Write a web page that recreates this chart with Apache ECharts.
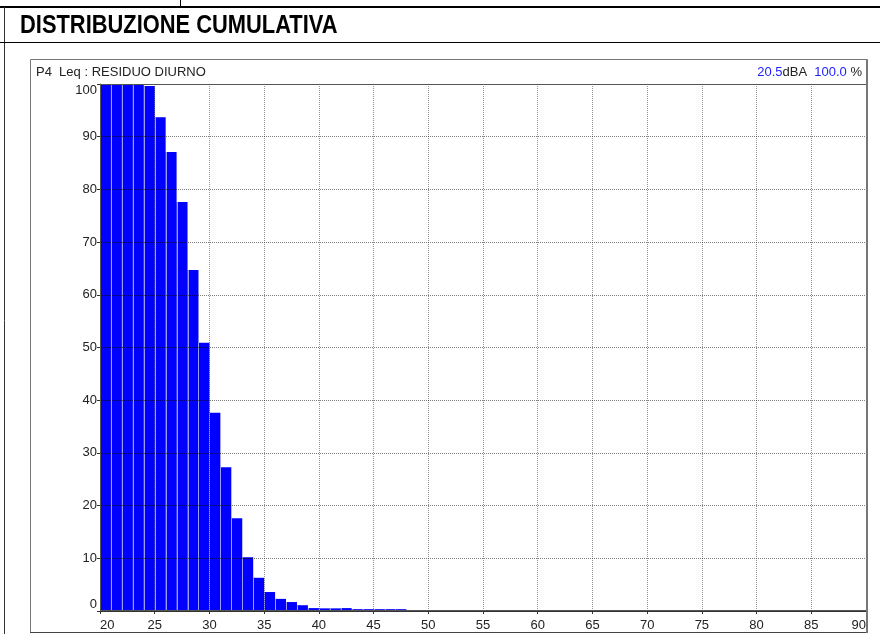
<!DOCTYPE html>
<html>
<head>
<meta charset="utf-8" />
<title>Distribuzione cumulativa</title>
<script src="https://cdn.jsdelivr.net/npm/echarts@6/dist/echarts.min.js"></script>
<style>
  html, body { margin: 0; padding: 0; background: #fff; }
  #main { width: 880px; height: 634px; }
</style>
</head>
<body>
<div id="main"></div>
<script>
// livelli (dBA) di inizio di ogni classe da 1 dB
const binStart = [20, 21, 22, 23, 24, 25, 26, 27, 28, 29, 30, 31, 32, 33,
                  34, 35, 36, 37, 38, 39, 40, 41, 42, 43, 44, 45, 46, 47];
// percentuale cumulativa per classe
const cumPercent = [100, 100, 100, 100, 99.6, 93.7, 87.1, 77.6, 64.7, 50.9, 37.6, 27.3, 17.6, 10.2,
                    6.3, 3.6, 2.3, 1.7, 1.1, 0.55, 0.5, 0.5, 0.55, 0.35, 0.35, 0.35, 0.35, 0.35];
const xTicks = [20, 25, 30, 35, 40, 45, 50, 55, 60, 65, 70, 75, 80, 85, 90];
const yTicks = [0, 10, 20, 30, 40, 50, 60, 70, 80, 90, 100];

const titleText = 'DISTRIBUZIONE CUMULATIVA';
const chartLabel = 'P4  Leq : RESIDUO DIURNO';
const levelValue = '20.5';
const percentValue = '100.0';

const font = '"Liberation Sans", Arial, sans-serif';

let myChart = echarts.init(document.getElementById('main'));

let option = {
    animation: false,
    backgroundColor: '#fff',
    grid: { left: 100, right: 14, top: 84, bottom: 23, containLabel: false },
    xAxis: {
        type: 'value',
        min: xTicks[0],
        max: xTicks[xTicks.length - 1],
        interval: 5,
        z: 3,
        axisLine: { show: true, lineStyle: { color: '#333', width: 1 } },
        axisTick: { show: true, length: 3, lineStyle: { color: '#333' } },
        axisLabel: {
            color: '#222', fontSize: 13, fontFamily: font, margin: 8,
            alignMinLabel: 'left', alignMaxLabel: 'right'
        },
        splitLine: { show: true, lineStyle: { color: 'rgba(0,0,0,0.42)', type: [1, 1], width: 1 } }
    },
    yAxis: {
        type: 'value',
        min: yTicks[0],
        max: yTicks[yTicks.length - 1],
        interval: 10,
        z: 3,
        axisLine: { show: true, lineStyle: { color: '#777', width: 1 } },
        axisTick: { show: true, length: 3, lineStyle: { color: '#333' } },
        axisLabel: {
            color: '#222', fontSize: 13, fontFamily: font, margin: 3,
            verticalAlignMinLabel: 'bottom', verticalAlignMaxLabel: 'top'
        },
        splitLine: { show: true, lineStyle: { color: 'rgba(0,0,0,0.5)', type: [1, 1], width: 1 } }
    },
    series: [
        {
            type: 'custom',
            clip: true,
            z: 2,
            data: binStart.map((x, i) => [x, cumPercent[i]]),
            renderItem: function (params, api) {
                let x = api.value(0), v = api.value(1);
                let p0 = api.coord([x, v]);
                let p1 = api.coord([x + 1, 0]);
                let children = [{
                    type: 'rect',
                    shape: { x: p0[0], y: p0[1], width: p1[0] - p0[0], height: p1[1] - p0[1] },
                    style: { fill: '#0000ff' }
                }];
                if (params.dataIndex > 0) {
                    children.push({
                        type: 'line',
                        shape: { x1: Math.round(p0[0]) + 0.5, y1: p0[1], x2: Math.round(p0[0]) + 0.5, y2: p1[1] },
                        style: { stroke: '#9c9cff', lineWidth: 1 }
                    });
                }
                return { type: 'group', children: children };
            }
        }
    ],
    graphic: [
        // cornice pagina
        { type: 'line', shape: { x1: 0, y1: 7, x2: 880, y2: 7 }, style: { stroke: '#000', lineWidth: 2 } },
        { type: 'line', shape: { x1: 180.5, y1: 0, x2: 180.5, y2: 7 }, style: { stroke: '#000', lineWidth: 1 } },
        { type: 'line', shape: { x1: 4.5, y1: 7, x2: 4.5, y2: 634 }, style: { stroke: '#333', lineWidth: 1 } },
        { type: 'line', shape: { x1: 0, y1: 42.5, x2: 880, y2: 42.5 }, style: { stroke: '#000', lineWidth: 1 } },
        {
            type: 'text', x: 20, y: 14, scaleX: 0.875,
            style: { text: titleText, fill: '#000', font: 'bold 25px "Liberation Sans", Arial, sans-serif' }
        },
        // cornice grafico
        { type: 'rect', shape: { x: 30.5, y: 59.5, width: 837, height: 573 }, style: { fill: 'none', stroke: '#777', lineWidth: 1 } },
        { type: 'rect', shape: { x: 100.5, y: 84.5, width: 766, height: 526 }, z: 10, style: { fill: 'none', stroke: '#555', lineWidth: 1 } },
        { type: 'line', shape: { x1: 867, y1: 60, x2: 867, y2: 633 }, z: 10, style: { stroke: '#777', lineWidth: 2 } },
        { type: 'line', shape: { x1: 30, y1: 632.5, x2: 868, y2: 632.5 }, style: { stroke: '#444', lineWidth: 1 } },
        {
            type: 'text', x: 36, y: 72,
            style: { text: chartLabel, fill: '#222', font: '13px ' + font, textVerticalAlign: 'middle' }
        },
        {
            type: 'text', x: 862, y: 72,
            style: {
                text: '{b|' + levelValue + '}dBA  {b|' + percentValue + '} %',
                fill: '#222', font: '13px ' + font, align: 'right', verticalAlign: 'middle',
                rich: { b: { fill: '#2020ff', font: '13px ' + font } }
            }
        }
    ]
};

myChart.setOption(option);
</script>
</body>
</html>
